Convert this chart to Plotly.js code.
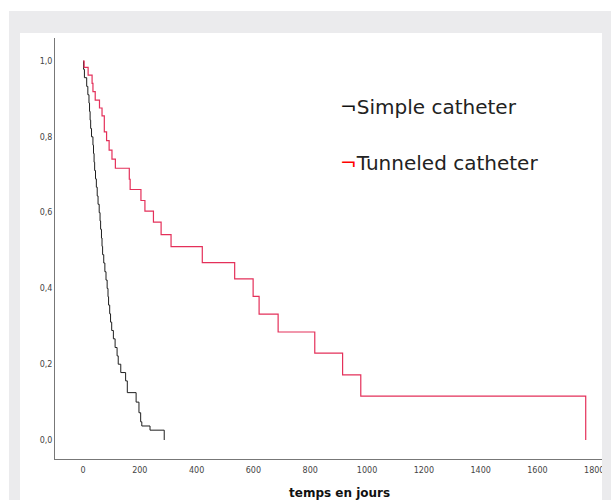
<!DOCTYPE html>
<html>
<head>
<meta charset="utf-8">
<script src="https://cdn.plot.ly/plotly-3.0.1.min.js"></script>
<style>html,body{margin:0;padding:0;background:#fff;}#chart{width:611px;height:500px;}</style>
</head>
<body>
<div id="chart"></div>
<script>
// ---- Data ----
const simpleDays = [0, 2, 5, 13, 17, 21, 23, 25, 27, 30, 35, 37, 39, 41, 44, 47, 50, 53, 57, 60, 62, 65, 67, 69, 73, 77, 81, 85, 88, 90, 94, 97, 101, 107, 113, 120, 124, 133, 150, 156, 187, 197, 203, 207, 236, 286];
const simpleSurv = [1.0, 0.978, 0.956, 0.933, 0.911, 0.889, 0.867, 0.844, 0.822, 0.800, 0.778, 0.756, 0.733, 0.711, 0.689, 0.667, 0.644, 0.622, 0.600, 0.578, 0.556, 0.533, 0.511, 0.489, 0.467, 0.444, 0.422, 0.400, 0.378, 0.356, 0.333, 0.311, 0.289, 0.267, 0.244, 0.222, 0.200, 0.178, 0.156, 0.125, 0.100, 0.072, 0.048, 0.037, 0.026, 0.0];

const tunnelDays = [0, 4, 18, 32, 35, 43, 58, 67, 75, 83, 92, 102, 114, 163, 166, 204, 218, 248, 275, 310, 420, 534, 599, 620, 687, 816, 914, 978, 1770];
const tunnelSurv = [1.0, 0.983, 0.963, 0.941, 0.919, 0.897, 0.876, 0.855, 0.813, 0.790, 0.765, 0.741, 0.717, 0.688, 0.661, 0.632, 0.604, 0.575, 0.542, 0.510, 0.468, 0.425, 0.379, 0.332, 0.285, 0.229, 0.172, 0.116, 0.0];

const seriesNames = ["Simple catheter", "Tunneled catheter"];
const xTickVals = [0, 200, 400, 600, 800, 1000, 1200, 1400, 1600, 1800];
const yTickVals = [0.0, 0.2, 0.4, 0.6, 0.8, 1.0];
const xTitle = "temps en jours";

// ---- Layout helpers (pixel -> paper) ----
const W = 611, H = 500, L = 55, R = 0, T = 38, B = 41;
const PW = W - L - R, PH = H - T - B;
const px = v => (v - L) / PW;
const py = v => (H - B - v) / PH;
const gray = '#ebebed';
function rect(x0, y0, x1, y1) {
  return {type: 'rect', xref: 'paper', yref: 'paper', x0: px(x0), x1: px(x1), y0: py(y0), y1: py(y1),
          fillcolor: gray, line: {width: 0}, layer: 'above'};
}

const traces = [
  {x: simpleDays, y: simpleSurv, name: seriesNames[0], mode: 'lines',
   line: {shape: 'hv', color: '#1e1e1e', width: 1}},
  {x: tunnelDays, y: tunnelSurv, name: seriesNames[1], mode: 'lines',
   line: {shape: 'hv', color: '#e4305a', width: 1.2}}
];

const layout = {
  width: W, height: H,
  margin: {l: L, r: R, t: T, b: B, pad: 0},
  paper_bgcolor: '#ffffff',
  plot_bgcolor: 'rgba(0,0,0,0)',
  showlegend: false,
  separators: ',.',
  font: {family: 'DejaVu Sans', size: 8, color: '#444'},
  xaxis: {
    range: [-98.6, 1859], tickvals: xTickVals, ticktext: xTickVals.map(String),
    showline: true, linecolor: '#777', linewidth: 1, showgrid: false, zeroline: false,
    ticks: '', ticklen: 0, ticklabelstandoff: 3,
    tickfont: {family: 'DejaVu Sans', size: 8, color: '#444'},
    fixedrange: true
  },
  yaxis: {
    range: [-0.0501, 1.0607], tickvals: yTickVals, tickformat: '.1f',
    showline: true, linecolor: '#777', linewidth: 1, showgrid: false, zeroline: false,
    ticks: '', ticklen: 0, tickfont: {family: 'DejaVu Sans', size: 8, color: '#444'},
    fixedrange: true
  },
  shapes: [
    rect(9, 11, 611, 33),
    rect(9, 33, 20, 500),
    rect(602, 33, 611, 500)
  ],
  annotations: [
    {xref: 'paper', yref: 'paper', x: px(338), y: py(107), xanchor: 'left', yanchor: 'middle', showarrow: false,
     text: '<span style="color:#111">¬</span>' + seriesNames[0],
     font: {family: 'DejaVu Sans', size: 20, color: '#222'}},
    {xref: 'paper', yref: 'paper', x: px(338), y: py(163), xanchor: 'left', yanchor: 'middle', showarrow: false,
     text: '<span style="color:#ff0000">¬</span>' + seriesNames[1],
     font: {family: 'DejaVu Sans', size: 20, color: '#222'}},
    {xref: 'paper', yref: 'paper', x: px(339), y: py(493), xanchor: 'center', yanchor: 'middle', showarrow: false,
     text: '<b>' + xTitle + '</b>',
     font: {family: 'DejaVu Sans', size: 12, color: '#111'}}
  ]
};

Plotly.newPlot('chart', traces, layout, {staticPlot: true, displayModeBar: false});
</script>
</body>
</html>
